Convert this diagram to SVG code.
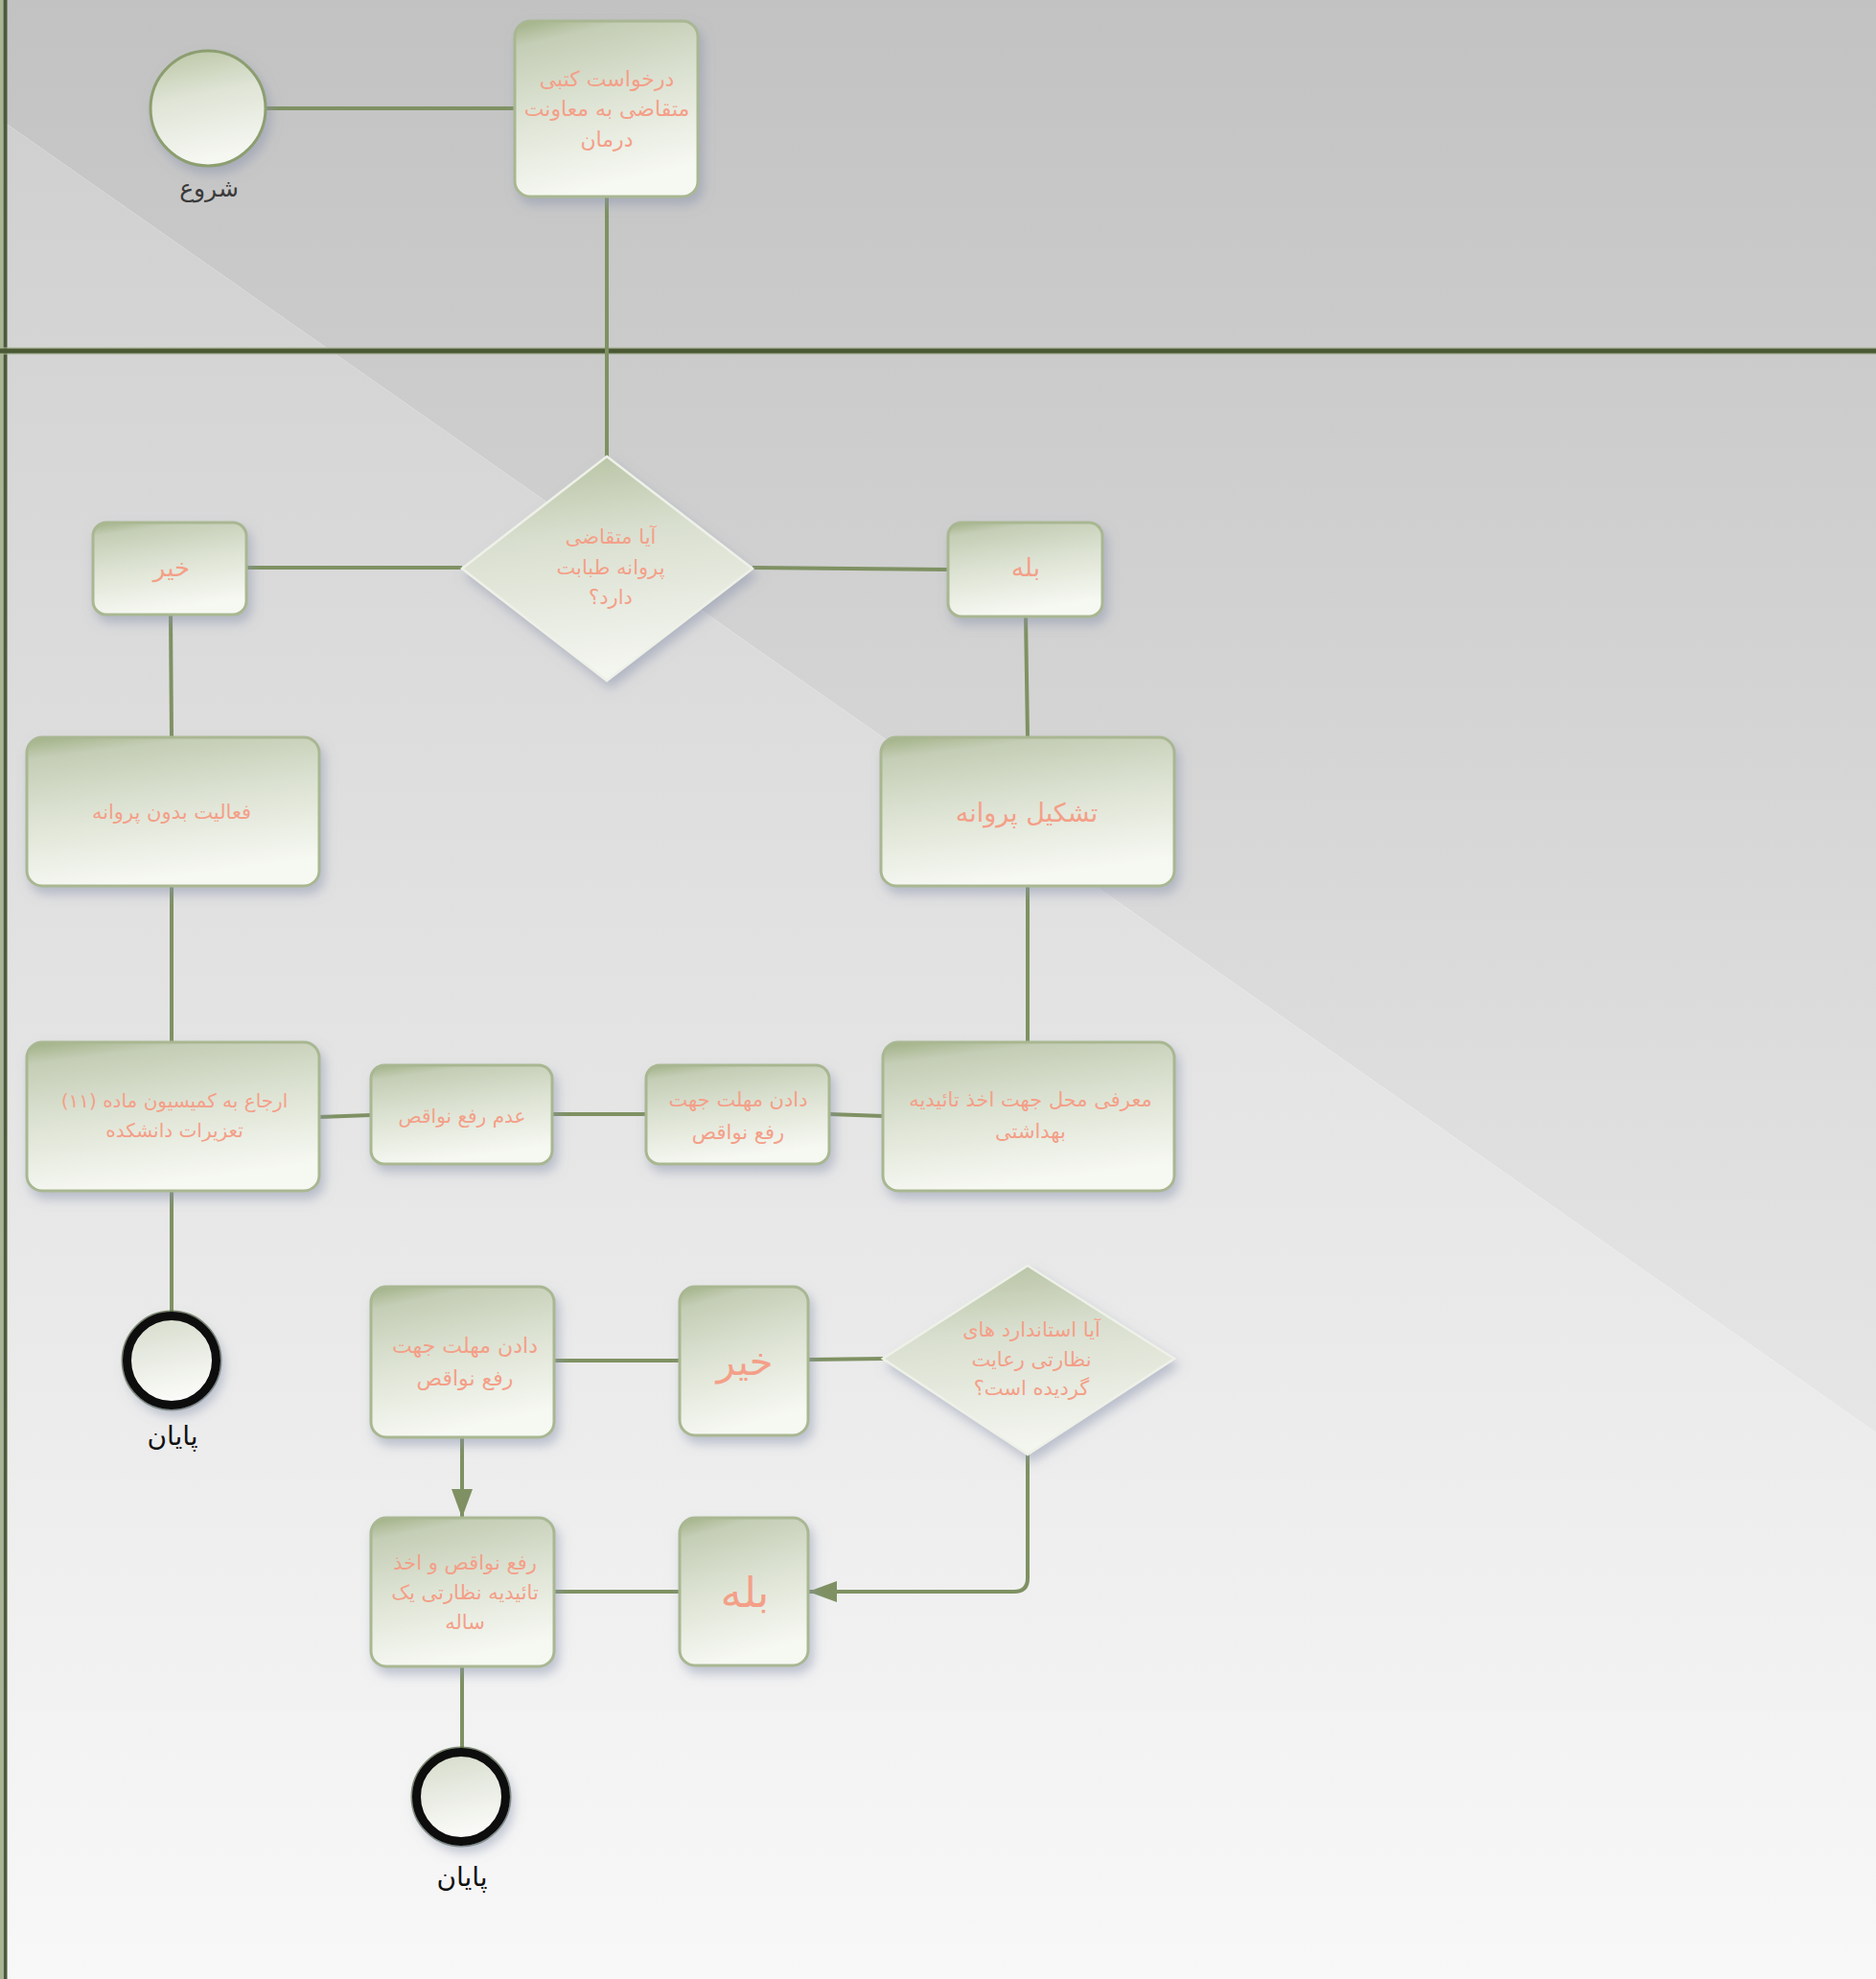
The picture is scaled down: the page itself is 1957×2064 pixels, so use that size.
<svg xmlns="http://www.w3.org/2000/svg" width="1957" height="2064" viewBox="0 0 1957 2064">
<defs>
<linearGradient id="bgLow" x1="0" y1="0" x2="0" y2="2064" gradientUnits="userSpaceOnUse">
<stop offset="0" stop-color="#cdcdcd"/>
<stop offset="1" stop-color="#f8f8f8"/>
</linearGradient>
<linearGradient id="bgHigh" x1="0" y1="0" x2="0" y2="1494" gradientUnits="userSpaceOnUse">
<stop offset="0" stop-color="#c2c2c2"/>
<stop offset="1" stop-color="#e6e6e6"/>
</linearGradient>
<linearGradient id="nodeFill" x1="0" y1="0" x2="0.25" y2="1">
<stop offset="0" stop-color="#9fb083"/>
<stop offset="0.14" stop-color="#c4cdb5"/>
<stop offset="0.5" stop-color="#dce2d2"/>
<stop offset="1" stop-color="#f6f8f2"/>
</linearGradient>
<linearGradient id="diaFill" x1="0" y1="0" x2="0.15" y2="1">
<stop offset="0" stop-color="#b4c09f"/>
<stop offset="0.4" stop-color="#d9dfcf"/>
<stop offset="1" stop-color="#f3f5ef"/>
</linearGradient>
<linearGradient id="circFill" x1="0" y1="0" x2="0.2" y2="1">
<stop offset="0" stop-color="#b9c5a2"/>
<stop offset="0.45" stop-color="#dfe4d6"/>
<stop offset="1" stop-color="#f5f7f1"/>
</linearGradient>
<linearGradient id="endFill" x1="0" y1="0" x2="0.2" y2="1">
<stop offset="0" stop-color="#d3dac8"/>
<stop offset="0.5" stop-color="#e8ebe2"/>
<stop offset="1" stop-color="#fafbf8"/>
</linearGradient>
<filter id="shadow" x="-20%" y="-20%" width="150%" height="150%">
<feDropShadow dx="4" dy="7" stdDeviation="6" flood-color="#8690ab" flood-opacity="0.5"/>
</filter>
<marker id="arrow" markerUnits="userSpaceOnUse" markerWidth="32" markerHeight="24" refX="30" refY="11" orient="auto">
<path d="M0 0 L30 11 L0 22 Z" fill="#7f9163"/>
</marker>
</defs>
<style>
.node { fill: url(#nodeFill); stroke: #a9b792; stroke-width: 3; filter: url(#shadow); }
.dia { fill: url(#diaFill); stroke: #eef1e8; stroke-width: 2.5; filter: url(#shadow); }
.start { fill: url(#circFill); stroke: #8d9e70; stroke-width: 3; filter: url(#shadow); }
.end { fill: url(#endFill); stroke: #0c0c0c; stroke-width: 9; filter: url(#shadow); }
.endHalo { fill: none; stroke: #4a5a38; stroke-width: 2; opacity: 0.7; }
.conn { fill: none; stroke: #7f9163; stroke-width: 4; }
.lbl { font-family: "DejaVu Sans", "Noto Sans", sans-serif; fill: #f49f88; text-anchor: middle; dominant-baseline: central; direction: rtl; }
.cap { font-family: "DejaVu Sans", "Noto Sans", sans-serif; text-anchor: middle; dominant-baseline: central; direction: rtl; }
</style>

<g id="background">
<polygon points="0,0 1957,0 1957,1494 8,130 0,130" fill="url(#bgHigh)"/>
<polygon points="0,130 8,130 1957,1494 1957,2064 0,2064" fill="url(#bgLow)"/>
<rect x="0" y="0" width="3" height="2064" fill="#a9b592"/>
<line x1="5.5" y1="0" x2="5.5" y2="2064" stroke="#4b5a3a" stroke-width="4"/>
<line x1="0" y1="366" x2="1957" y2="366" stroke="#a9b592" stroke-width="8" opacity="0.6"/>
<line x1="0" y1="366" x2="1957" y2="366" stroke="#4b5a35" stroke-width="5"/>
</g>

<g id="connectors">
<path class="conn" d="M277 113 H537"/>
<path class="conn" d="M633 205 V476"/>
<path class="conn" d="M482 592 H257"/>
<path class="conn" d="M785 592 L989 594"/>
<path class="conn" d="M178 641 L179 769"/>
<path class="conn" d="M1070 643 L1072 769"/>
<path class="conn" d="M179 924 V1087"/>
<path class="conn" d="M1072 924 V1087"/>
<path class="conn" d="M921 1164 L865 1162"/>
<path class="conn" d="M674 1162 H576"/>
<path class="conn" d="M387 1163 L333 1165"/>
<path class="conn" d="M179 1242 V1368"/>
<path class="conn" d="M921 1417 L843 1418"/>
<path class="conn" d="M709 1419 H578"/>
<path class="conn" d="M482 1499 V1583" marker-end="url(#arrow)"/>
<path class="conn" d="M1072 1517 V1646 Q1072 1660 1058 1660 H843" marker-end="url(#arrow)"/>
<path class="conn" d="M709 1660 H578"/>
<path class="conn" d="M482 1738 V1823"/>
</g>

<g id="start">
<circle class="start" cx="217" cy="113" r="60"/>
<text class="cap" x="218" y="196" font-size="25" fill="#3a3a3a">شروع</text>
</g>

<g id="task-request">
<rect class="node" x="537" y="22" width="191" height="183" rx="16"/>
<text class="lbl" font-size="22"><tspan x="633" y="82">درخواست کتبی</tspan><tspan x="633" y="113">متقاضی به معاونت</tspan><tspan x="633" y="145">درمان</tspan></text>
</g>

<g id="decision-license">
<polygon class="dia" points="633,476 785,593 633,710 482,593"/>
<text class="lbl" font-size="21"><tspan x="637" y="560">آیا متقاضی</tspan><tspan x="637" y="592">پروانه طبابت</tspan><tspan x="637" y="623">دارد؟</tspan></text>
</g>

<g id="no-1">
<rect class="node" x="97" y="545" width="160" height="96" rx="14"/>
<text class="lbl" x="179" y="592" font-size="26">خیر</text>
</g>

<g id="yes-1">
<rect class="node" x="989" y="545" width="161" height="98" rx="14"/>
<text class="lbl" x="1070" y="592" font-size="26">بله</text>
</g>

<g id="task-no-license">
<rect class="node" x="28" y="769" width="305" height="155" rx="16"/>
<text class="lbl" x="179" y="847" font-size="21">فعالیت بدون پروانه</text>
</g>

<g id="task-issue-license">
<rect class="node" x="919" y="769" width="306" height="155" rx="16"/>
<text class="lbl" x="1071" y="847" font-size="27">تشکیل پروانه</text>
</g>

<g id="task-referral">
<rect class="node" x="28" y="1087" width="305" height="155" rx="16"/>
<text class="lbl" font-size="20"><tspan x="182" y="1148">ارجاع به کمیسیون ماده (۱۱)</tspan><tspan x="182" y="1179">تعزیرات دانشکده</tspan></text>
</g>

<g id="task-not-fixed">
<rect class="node" x="387" y="1111" width="189" height="103" rx="14"/>
<text class="lbl" x="482" y="1164" font-size="20">عدم رفع نواقص</text>
</g>

<g id="task-deadline-1">
<rect class="node" x="674" y="1111" width="191" height="103" rx="14"/>
<text class="lbl" font-size="21"><tspan x="770" y="1147">دادن مهلت جهت</tspan><tspan x="770" y="1181">رفع نواقص</tspan></text>
</g>

<g id="task-introduce">
<rect class="node" x="921" y="1087" width="304" height="155" rx="16"/>
<text class="lbl" font-size="21"><tspan x="1075" y="1147">معرفی محل جهت اخذ تائیدیه</tspan><tspan x="1075" y="1180">بهداشتی</tspan></text>
</g>

<g id="end-1">
<circle class="endHalo" cx="179" cy="1419" r="51.5"/>
<circle class="end" cx="179" cy="1419" r="46.5"/>
<text class="cap" x="180" y="1497" font-size="28" fill="#111111">پایان</text>
</g>

<g id="task-deadline-2">
<rect class="node" x="387" y="1342" width="191" height="157" rx="16"/>
<text class="lbl" font-size="22"><tspan x="485" y="1403">دادن مهلت جهت</tspan><tspan x="485" y="1437">رفع نواقص</tspan></text>
</g>

<g id="no-2">
<rect class="node" x="709" y="1342" width="134" height="155" rx="16"/>
<text class="lbl" x="777" y="1420" font-size="40">خیر</text>
</g>

<g id="decision-standards">
<polygon class="dia" points="1072,1320 1225,1417 1072,1517 921,1417"/>
<text class="lbl" font-size="21"><tspan x="1076" y="1387">آیا استاندارد های</tspan><tspan x="1076" y="1418">نظارتی رعایت</tspan><tspan x="1076" y="1448">گردیده است؟</tspan></text>
</g>

<g id="task-fix">
<rect class="node" x="387" y="1583" width="191" height="155" rx="16"/>
<text class="lbl" font-size="21"><tspan x="485" y="1630">رفع نواقص و اخذ</tspan><tspan x="485" y="1661">تائیدیه نظارتی یک</tspan><tspan x="485" y="1692">ساله</tspan></text>
</g>

<g id="yes-2">
<rect class="node" x="709" y="1583" width="134" height="154" rx="16"/>
<text class="lbl" x="777" y="1660" font-size="44">بله</text>
</g>

<g id="end-2">
<circle class="endHalo" cx="481" cy="1874" r="51.5"/>
<circle class="end" cx="481" cy="1874" r="46.5"/>
<text class="cap" x="482" y="1957" font-size="28" fill="#111111">پایان</text>
</g>
</svg>
